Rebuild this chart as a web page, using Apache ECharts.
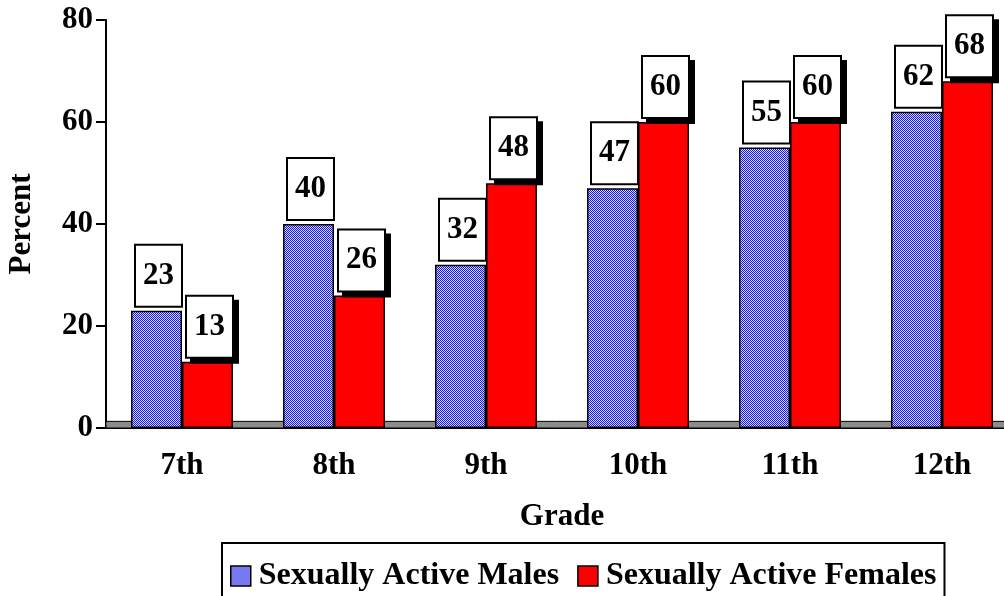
<!DOCTYPE html>
<html>
<head>
<meta charset="utf-8">
<script src="https://cdn.jsdelivr.net/npm/echarts@6/dist/echarts.min.js"></script>
<style>html,body{margin:0;padding:0;background:#fff;}#main{width:1004px;height:596px;}</style>
</head>
<body>
<div id="main"></div>
<script>
var categories = ['7th', '8th', '9th', '10th', '11th', '12th'];
var malesValues = [23, 40, 32, 47, 55, 62];
var femalesValues = [13, 26, 48, 60, 60, 68];
var yTicks = [0, 20, 40, 60, 80];

var FONT = '"Liberation Serif", "Times New Roman", serif';

// dotted blue pattern
var pc = document.createElement('canvas');
pc.width = 2; pc.height = 2;
var pctx = pc.getContext('2d');
pctx.fillStyle = '#dcdcff'; pctx.fillRect(0, 0, 2, 2);
pctx.fillStyle = '#1414ee'; pctx.fillRect(0, 0, 1, 1); pctx.fillRect(1, 1, 1, 1);

var chart = echarts.init(document.getElementById('main'), null, {renderer: 'canvas'});

function labelCfg(shadow) {
  var l = {
    show: true,
    position: 'top',
    distance: 0,
    offset: [2, -5],
    fontFamily: FONT,
    fontWeight: 'bold',
    fontSize: 31,
    color: '#000',
    lineHeight: 30,
    backgroundColor: '#fff',
    borderColor: '#000',
    borderWidth: 2,
    padding: [15, 7, 15, 7]
  };
  if (shadow) {
    l.shadowColor = '#000';
    l.shadowOffsetX = 5;
    l.shadowOffsetY = 5;
    l.shadowBlur = 0;
  }
  return l;
}

chart.setOption({
  animation: false,
  grid: {left: 106, top: 20, width: 912, height: 408, containLabel: false, outerBoundsMode: 'none'},
  legend: {
    data: [
      {name: 'Sexually Active Males', itemStyle: {color: '#7878f2', borderColor: '#000', borderWidth: 1.5}},
      {name: 'Sexually Active Females', itemStyle: {color: '#ff0000', borderColor: '#000', borderWidth: 1.5}}
    ],
    left: 222,
    top: 543,
    borderColor: '#000',
    borderWidth: 2,
    padding: [17, 8, 30, 8],
    itemWidth: 20,
    itemHeight: 20,
    itemGap: 18,
    icon: 'rect',
    selectedMode: false,
    textStyle: {fontFamily: FONT, fontWeight: 'bold', fontSize: 32, color: '#000', padding: [0, 0, 0, 3]}
  },
  xAxis: {
    type: 'category',
    data: categories,
    name: 'Grade',
    nameLocation: 'middle',
    nameGap: 73,
    nameTextStyle: {fontFamily: FONT, fontWeight: 'bold', fontSize: 31, color: '#000'},
    axisLine: {lineStyle: {color: '#000', width: 2}},
    axisTick: {length: 10, lineStyle: {color: '#000', width: 2}},
    axisLabel: {fontFamily: FONT, fontWeight: 'bold', fontSize: 31, color: '#000', margin: 22}
  },
  yAxis: {
    type: 'value',
    min: yTicks[0],
    max: yTicks[yTicks.length - 1],
    interval: 20,
    name: 'Percent',
    nameLocation: 'middle',
    nameGap: 69,
    nameRotate: 90,
    nameTextStyle: {fontFamily: FONT, fontWeight: 'bold', fontSize: 31, color: '#000'},
    axisLine: {show: true, lineStyle: {color: '#000', width: 2}},
    axisTick: {show: true, length: 10, lineStyle: {color: '#000', width: 2}},
    splitLine: {show: false},
    axisLabel: {fontFamily: FONT, fontWeight: 'bold', fontSize: 31, color: '#000', margin: 13}
  },
  series: [
    {
      name: 'floor',
      type: 'line',
      data: [],
      z: 1,
      silent: true,
      markArea: {
        silent: true,
        itemStyle: {color: '#8c8c8c', borderColor: '#000', borderWidth: 1},
        data: [[{yAxis: 0}, {yAxis: 1.3}]]
      }
    },
    {
      name: 'Sexually Active Males',
      type: 'bar',
      z: 3,
      barWidth: 51,
      barGap: '0%',
      data: malesValues,
      itemStyle: {color: {image: pc, repeat: 'repeat'}, borderColor: '#000', borderWidth: 1.5},
      label: labelCfg(false)
    },
    {
      name: 'Sexually Active Females',
      type: 'bar',
      z: 3,
      barWidth: 51,
      barGap: '0%',
      data: femalesValues,
      itemStyle: {color: '#ff0000', borderColor: '#000', borderWidth: 1.5},
      label: labelCfg(true)
    }
  ]
});
</script>
</body>
</html>
